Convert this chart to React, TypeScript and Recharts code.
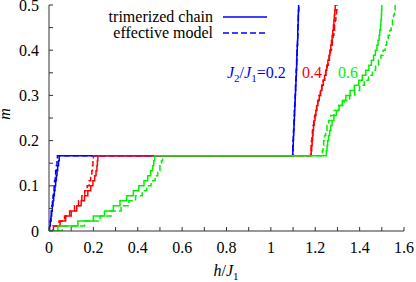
import { LineChart, Line, XAxis, YAxis } from 'recharts';

// magnetisation levels (steps of 1/90) below and above the 1/6 plateau
const mLow = [0, 0.0111, 0.0222, 0.0333, 0.0444, 0.0556, 0.0667, 0.0778, 0.0889, 0.1, 0.1111, 0.1222, 0.1333, 0.1444, 0.1556, 0.1667];
const mHigh = [0.1778, 0.1889, 0.2, 0.2111, 0.2222, 0.2333, 0.2444, 0.2556, 0.2667, 0.2778, 0.2889, 0.3, 0.3111, 0.3222, 0.3333, 0.3444, 0.3556, 0.3667, 0.3778, 0.3889, 0.4, 0.4111, 0.4222, 0.4333, 0.4444, 0.4556, 0.4667, 0.4778, 0.4889, 0.5];

// critical fields h/J1 where m jumps to each level
const blueChainLow = [0, 0.002, 0.006, 0.009, 0.012, 0.015, 0.018, 0.021, 0.024, 0.027, 0.03, 0.033, 0.036, 0.039, 0.043, 0.046];
const blueChainHigh = [1.099, 1.1, 1.101, 1.102, 1.103, 1.104, 1.105, 1.106, 1.107, 1.108, 1.109, 1.11, 1.111, 1.112, 1.113, 1.114, 1.115, 1.116, 1.117, 1.117, 1.118, 1.119, 1.12, 1.121, 1.121, 1.122, 1.123, 1.123, 1.124, 1.125];
const blueEffLow = [0, 0.002, 0.005, 0.008, 0.01, 0.013, 0.015, 0.018, 0.02, 0.023, 0.025, 0.028, 0.03, 0.033, 0.036, 0.038];
const blueEffHigh = [1.098, 1.099, 1.1, 1.101, 1.102, 1.103, 1.104, 1.105, 1.106, 1.107, 1.108, 1.109, 1.11, 1.111, 1.112, 1.113, 1.114, 1.115, 1.116, 1.117, 1.118, 1.119, 1.12, 1.121, 1.122, 1.122, 1.123, 1.124, 1.125, 1.126];

const redChainLow = [0, 0.02, 0.05, 0.075, 0.1, 0.125, 0.145, 0.16, 0.175, 0.188, 0.198, 0.206, 0.212, 0.216, 0.218, 0.22];
const redChainHigh = [1.182, 1.184, 1.186, 1.188, 1.19, 1.192, 1.195, 1.199, 1.203, 1.207, 1.212, 1.218, 1.224, 1.23, 1.236, 1.242, 1.247, 1.252, 1.257, 1.262, 1.266, 1.27, 1.273, 1.276, 1.279, 1.282, 1.284, 1.286, 1.288, 1.29];
const redEffLow = [0, 0.018, 0.045, 0.07, 0.093, 0.115, 0.133, 0.148, 0.161, 0.172, 0.181, 0.188, 0.193, 0.196, 0.198, 0.2];
const redEffHigh = [1.179, 1.181, 1.183, 1.185, 1.187, 1.19, 1.193, 1.197, 1.201, 1.206, 1.211, 1.217, 1.223, 1.229, 1.236, 1.242, 1.248, 1.254, 1.259, 1.264, 1.269, 1.273, 1.277, 1.281, 1.284, 1.287, 1.29, 1.293, 1.296, 1.298];

const greenChainLow = [0, 0.04, 0.13, 0.2, 0.25, 0.29, 0.32, 0.35, 0.38, 0.405, 0.428, 0.445, 0.458, 0.467, 0.472, 0.476];
const greenChainHigh = [1.25, 1.253, 1.256, 1.26, 1.265, 1.27, 1.276, 1.284, 1.295, 1.307, 1.322, 1.338, 1.357, 1.376, 1.396, 1.412, 1.428, 1.442, 1.453, 1.463, 1.471, 1.478, 1.483, 1.488, 1.491, 1.494, 1.496, 1.498, 1.499, 1.5];
const greenEffLow = [0, 0.06, 0.16, 0.23, 0.28, 0.325, 0.36, 0.39, 0.42, 0.44, 0.46, 0.478, 0.49, 0.5, 0.507, 0.512];
const greenEffHigh = [1.232, 1.235, 1.238, 1.242, 1.247, 1.253, 1.26, 1.27, 1.285, 1.305, 1.33, 1.355, 1.378, 1.4, 1.421, 1.44, 1.458, 1.472, 1.485, 1.496, 1.506, 1.515, 1.522, 1.529, 1.536, 1.542, 1.548, 1.553, 1.557, 1.56];

const xTicks = [0, 0.1, 0.2, 0.3, 0.4, 0.5, 0.6, 0.7, 0.8, 0.9, 1, 1.1, 1.2, 1.3, 1.4, 1.5, 1.6];
const yTicks = [0, 0.05, 0.1, 0.15, 0.2, 0.25, 0.3, 0.35, 0.4, 0.45, 0.5];

const BLUE = '#0000ff';
const RED = '#ff0000';
const GREEN = '#00f000';
const FRAME = '#333';
const txt = { fontFamily: 'Liberation Serif', fontSize: 16 };

function curve(low: number[], high: number[]) {
  return [
    ...low.map((h, i) => ({ h, m: mLow[i] })),
    ...high.map((h, i) => ({ h, m: mHigh[i] })),
  ];
}

const series = [
  { key: 'b-chain', color: BLUE, dash: undefined, data: curve(blueChainLow, blueChainHigh) },
  { key: 'b-eff', color: BLUE, dash: '6 3', data: curve(blueEffLow, blueEffHigh) },
  { key: 'r-chain', color: RED, dash: undefined, data: curve(redChainLow, redChainHigh) },
  { key: 'r-eff', color: RED, dash: '6 3', data: curve(redEffLow, redEffHigh) },
  { key: 'g-chain', color: GREEN, dash: undefined, data: curve(greenChainLow, greenChainHigh) },
  { key: 'g-eff', color: GREEN, dash: '6 3', data: curve(greenEffLow, greenEffHigh) },
];

const fmt = (v: number) => String(Number(v.toFixed(2)));

function BottomTick({ x, y, payload }: any) {
  const v = payload.value as number;
  const labelled = Math.round(v * 10) % 2 === 0;
  return (
    <g>
      <line x1={x} x2={x} y1={y} y2={y - 4} stroke={FRAME} />
      {labelled && (
        <text x={x} y={y + 22} textAnchor="middle" fill="#000" style={txt}>
          {fmt(v)}
        </text>
      )}
    </g>
  );
}

function TopTick({ x, y }: any) {
  return <line x1={x} x2={x} y1={y} y2={y + 4} stroke={FRAME} />;
}

function LeftTick({ x, y, payload }: any) {
  const v = payload.value as number;
  const labelled = Math.round(v * 100) % 10 === 0;
  return (
    <g>
      <line x1={x} x2={x + 4} y1={y} y2={y} stroke={FRAME} />
      {labelled && (
        <text x={x - 10} y={y + 5.5} textAnchor="end" fill="#000" style={txt}>
          {fmt(v)}
        </text>
      )}
    </g>
  );
}

function RightTick({ x, y }: any) {
  return <line x1={x} x2={x - 4} y1={y} y2={y} stroke={FRAME} />;
}

export default function App() {
  return (
    <div style={{ position: 'absolute', left: 0, top: 0, width: 416, height: 282, background: '#fff' }}>
      <LineChart width={416} height={282} margin={{ top: 5, right: 12, bottom: 0, left: 0 }}>
        <XAxis
          xAxisId="b"
          dataKey="h"
          type="number"
          domain={[0, 1.6]}
          ticks={xTicks}
          interval={0}
          height={51}
          tickSize={0}
          tickMargin={0}
          tickLine={false}
          axisLine={{ stroke: FRAME }}
          tick={BottomTick}
          allowDataOverflow
        />
        <XAxis
          xAxisId="t"
          orientation="top"
          type="number"
          domain={[0, 1.6]}
          ticks={xTicks}
          interval={0}
          height={0}
          tickSize={0}
          tickMargin={0}
          tickLine={false}
          axisLine={{ stroke: FRAME }}
          tick={TopTick}
          allowDataOverflow
        />
        <YAxis
          yAxisId="l"
          type="number"
          domain={[0, 0.5]}
          ticks={yTicks}
          interval={0}
          width={49}
          tickSize={0}
          tickMargin={0}
          tickLine={false}
          axisLine={{ stroke: FRAME }}
          tick={LeftTick}
          allowDataOverflow
        />
        <YAxis
          yAxisId="r"
          orientation="right"
          type="number"
          domain={[0, 0.5]}
          ticks={yTicks}
          interval={0}
          width={0}
          tickSize={0}
          tickMargin={0}
          tickLine={false}
          axisLine={{ stroke: FRAME }}
          tick={RightTick}
          allowDataOverflow
        />
        {series.map((s) => (
          <Line
            key={s.key}
            xAxisId="b"
            yAxisId="l"
            data={s.data}
            dataKey="m"
            type="stepAfter"
            stroke={s.color}
            strokeWidth={1.5}
            strokeDasharray={s.dash}
            dot={false}
            activeDot={false}
            isAnimationActive={false}
          />
        ))}
      </LineChart>

      <svg
        width={416}
        height={282}
        style={{ position: 'absolute', left: 0, top: 0, pointerEvents: 'none' }}
      >
        {/* key */}
        <text x={213} y={22} textAnchor="end" fill="#000" style={txt}>trimerized chain</text>
        <line x1={223} x2={267} y1={17} y2={17} stroke={BLUE} strokeWidth={1.5} />
        <text x={213} y={38} textAnchor="end" fill="#000" style={txt}>effective model</text>
        <line x1={223} x2={267} y1={33} y2={33} stroke={BLUE} strokeWidth={1.5} strokeDasharray="6 3" />

        {/* curve labels */}
        <text x={227} y={78} fill={BLUE} style={txt}>
          <tspan fontStyle="italic">J</tspan>
          <tspan fontSize={11} dy={4}>2</tspan>
          <tspan dy={-4}>/</tspan>
          <tspan fontStyle="italic">J</tspan>
          <tspan fontSize={11} dy={4}>1</tspan>
          <tspan dy={-4}>=0.2</tspan>
        </text>
        <text x={302} y={78} fill={RED} style={txt}>0.4</text>
        <text x={338} y={78} fill={GREEN} style={txt}>0.6</text>

        {/* axis titles */}
        <text x={226} y={276} textAnchor="middle" fill="#000" style={txt}>
          <tspan fontStyle="italic">h</tspan>
          <tspan>/</tspan>
          <tspan fontStyle="italic">J</tspan>
          <tspan fontSize={11} dy={4}>1</tspan>
        </text>
        <text x={10} y={114} textAnchor="middle" fontStyle="italic" fill="#000" style={txt} transform="rotate(-90 10 114)">
          m
        </text>
      </svg>
    </div>
  );
}
